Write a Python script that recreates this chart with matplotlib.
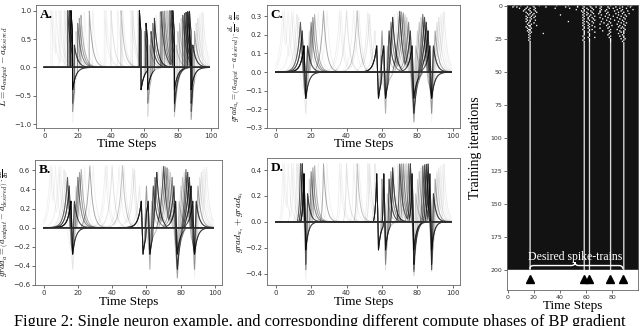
# Single neuron example: loss / gradient phases and training raster
import matplotlib
matplotlib.use('Agg')
import matplotlib.pyplot as plt
import numpy as np
from matplotlib.path import Path
from matplotlib.patches import PathPatch

plt.rcParams['mathtext.fontset'] = 'cm'

# desired spike times
desired = [17, 58, 62, 78, 88]

# output spike times of the early training iterations
iter_spikes = [
    [5, 10, 19, 24, 37, 46, 53, 57, 62, 70, 78, 85, 91, 94],
    [4, 7, 15, 20, 29, 44, 53, 58, 63, 67, 71, 76, 82, 87, 93],
    [9, 14, 17, 21, 36, 47, 57, 60, 64, 70, 77, 80, 85, 90],
    [13, 16, 20, 52, 58, 61, 65, 71, 75, 83, 87, 95],
    [12, 17, 21, 56, 58, 63, 70, 74, 81, 86, 91],
    [14, 18, 22, 57, 60, 64, 70, 76, 84, 88],
    [15, 17, 20, 58, 61, 65, 69, 75, 82, 87, 92],
    [16, 19, 40, 57, 60, 63, 71, 77, 84, 89],
    [14, 18, 21, 58, 62, 66, 74, 80, 86, 90],
    [15, 17, 20, 57, 61, 64, 70, 76, 83, 88],
    [14, 18, 58, 61, 65, 72, 78, 85, 89],
    [15, 17, 21, 57, 62, 66, 75, 81, 87],
    [14, 17, 46, 58, 60, 64, 71, 77, 84, 88],
    [16, 20, 57, 61, 65, 73, 78, 86, 90],
    [15, 18, 58, 62, 70, 76, 83, 88],
    [16, 17, 22, 57, 61, 64, 75, 79, 85, 89],
    [14, 17, 58, 62, 66, 77, 84, 87],
    [15, 18, 58, 61, 70, 76, 86, 88],
    [16, 17, 57, 62, 64, 78, 83, 89],
    [15, 17, 58, 62, 72, 77, 85, 88],
    [16, 18, 58, 61, 66, 78, 86, 88],
    [17, 27, 58, 62, 77, 84, 88],
    [16, 58, 62, 76, 87],
    [17, 57, 62, 78, 85, 88],
    [16, 58, 61, 66, 77, 88],
    [17, 58, 62, 78, 86, 89],
    [16, 57, 62, 78, 88],
    [17, 58, 62, 78, 87],
]
converged_from = 28
n_iters = 200

time = np.linspace(0, 99, 991)


def trace(spikes, kind, amp):
    d = time[None, :] - np.array(spikes, dtype=float)[:, None]
    if kind == 'causal':
        k = np.where(d >= 0, np.exp(-np.clip(d, 0, None) / 2.0), 0.0)
    elif kind == 'cusp':
        k = np.exp(-np.abs(d) / 1.8)
    else:
        k = np.where(d >= 0, np.exp(-np.clip(d, 0, None) / 1.5),
                     np.exp(np.clip(d, None, 0) / 0.6))
        k = k - 0.2 * np.exp(-((d + 5) / 2.5) ** 2)
    return amp * k.max(axis=0)


fig = plt.figure(figsize=(6.4, 3.26), dpi=100)

panels = [
    # letter, rect, kind, amp, yticks, ylabel, label x, label size
    ('A.', [0.05625, 0.6074, 0.284, 0.377], 'causal', 1.0,
     [-1.0, -0.5, 0.0, 0.5, 1.0], r'$L = a_{output} - a_{desired}$', -0.137, 6.8),
    ('B.', [0.0547, 0.1258, 0.292, 0.3834], 'cusp', 0.65,
     [-0.6, -0.4, -0.2, 0.0, 0.2, 0.4, 0.6],
     r'$grad_a = \left(a_{output} - a_{desired}\right)\cdot\frac{\partial L}{\partial a}$', -0.123, 6.3),
    ('C.', [0.417, 0.6074, 0.3016, 0.377], 'cusp', 0.33,
     [-0.3, -0.2, -0.1, 0.0, 0.1, 0.2, 0.3],
     r'$grad_{u_s} = \left(a_{output} - a_{desired}\right)\cdot\frac{\partial L}{\partial a}\cdot\frac{\partial a}{\partial u}$',
     -0.12, 5.6),
    ('D.', [0.417, 0.1258, 0.3016, 0.3896], 'skew', 0.45,
     [-0.4, -0.2, 0.0, 0.2, 0.4], r'$grad_{u_s} + grad_{u_t}$', -0.11, 6.8),
]

n = len(iter_spikes)
for letter, rect, kind, amp, yticks, ylabel, lx, lsize in panels:
    ax = fig.add_axes(rect)
    des = trace(desired, kind, amp)
    for i, sp in enumerate(iter_spikes):
        alpha = 0.05 + 0.4 * (i / (n - 1)) ** 1.3
        ax.plot(time, trace(sp, kind, amp) - des, color='black', alpha=alpha, lw=0.7)
    ax.plot(time, trace(desired, kind, amp) - des, color='#333333', lw=1.2)
    ax.set_xticks([0, 20, 40, 60, 80, 100])
    ax.set_yticks(yticks)
    ax.tick_params(labelsize=5, length=2, width=0.5, pad=1.5, colors='#333333')
    for s in ax.spines.values():
        s.set_linewidth(0.6)
        s.set_color('#666666')
    ax.set_xlabel('Time Steps', family='Liberation Serif', fontsize=9.5)
    ax.xaxis.set_label_coords(0.5, -0.085)
    ax.set_ylabel(ylabel, fontsize=lsize)
    ax.yaxis.set_label_coords(lx, 0.5)
    ax.text(0.02, 0.97, letter, transform=ax.transAxes, ha='left', va='top',
            family='Liberation Serif', fontweight='bold', fontsize=9.5)

# raster of training iterations
M = np.zeros((n_iters, 100))
for i, sp in enumerate(iter_spikes):
    M[i, sp] = 1
M[converged_from:, desired] = 0.85

axr = fig.add_axes([0.792, 0.1104, 0.2047, 0.8742])
axr.imshow(M, cmap='gray', vmin=-0.08, vmax=1, aspect='auto', interpolation='antialiased',
           extent=(-0.5, 99.5, n_iters - 0.5, -0.5))
axr.axhspan(n_iters - 0.5, 215, color='white')
axr.plot(desired, [207] * len(desired), '^', color='black', ms=6)
axr.set_xlim(-0.5, 99.5)
axr.set_ylim(215, -0.5)
axr.set_xticks([0, 20, 40, 60, 80])
axr.set_yticks(np.arange(0, 201, 25))
axr.tick_params(labelsize=4.5, length=2, width=0.5, pad=1.5, colors='#333333')
for s in axr.spines.values():
    s.set_linewidth(0.6)
    s.set_color('#666666')
axr.set_xlabel('Time Steps', family='Liberation Serif', fontsize=9.5)
axr.xaxis.set_label_coords(0.5, -0.035)
axr.set_ylabel('Training iterations', family='Liberation Serif', fontsize=10)
axr.yaxis.set_label_coords(-0.19, 0.5)

# brace over the desired spike trains
x0, x1 = desired[0], desired[-1]
xc = (x0 + x1) / 2 - 1
yb, ym, yt = 199, 196.5, 194
verts = [(x0, yb), (x0, ym), (x0 + 3, ym), (xc - 3, ym), (xc, ym), (xc, yt),
         (xc, ym), (xc + 3, ym), (x1 - 3, ym), (x1, ym), (x1, yb)]
codes = [Path.MOVETO, Path.CURVE3, Path.CURVE3, Path.LINETO, Path.CURVE3, Path.CURVE3,
         Path.CURVE3, Path.CURVE3, Path.LINETO, Path.CURVE3, Path.CURVE3]
axr.add_patch(PathPatch(Path(verts, codes), fill=False, edgecolor='white', lw=1.0))
axr.text(xc, 190, 'Desired spike-trains', color='white', ha='center', va='center',
         family='Liberation Serif', fontsize=8.5)

fig.text(0.5, 1 - 314 / 326,
         'Figure 2: Single neuron example, and corresponding different compute phases of BP gradient',
         ha='center', va='top', family='Liberation Serif', fontsize=11.8)

fig.savefig('out.png', dpi=100)
